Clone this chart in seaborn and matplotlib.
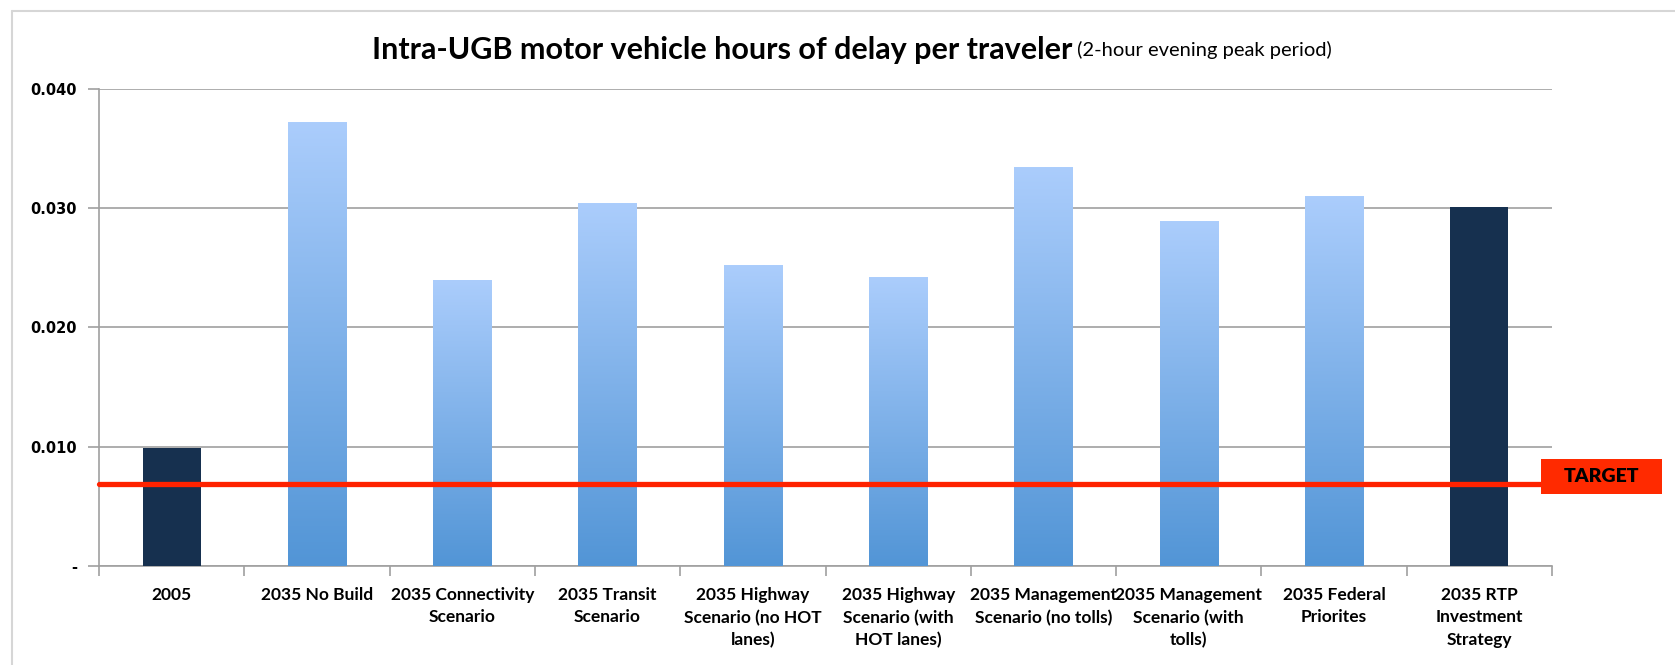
import matplotlib
matplotlib.use("Agg")
import matplotlib.pyplot as plt
import matplotlib.lines as mlines
import matplotlib.patches as mpatches
import numpy as np
import pandas as pd
import seaborn as sns

categories = [
    "2005",
    "2035 No Build",
    "2035 Connectivity\nScenario",
    "2035 Transit\nScenario",
    "2035 Highway\nScenario (no HOT\nlanes)",
    "2035 Highway\nScenario (with\nHOT lanes)",
    "2035 Management\nScenario (no tolls)",
    "2035 Management\nScenario (with\ntolls)",
    "2035 Federal\nPriorites",
    "2035 RTP\nInvestment\nStrategy",
]
values = [0.0099, 0.0372, 0.0240, 0.0304, 0.0252, 0.0242, 0.0334, 0.0289, 0.0310, 0.0301]
kinds = ["base", "scenario", "scenario", "scenario", "scenario", "scenario",
         "scenario", "scenario", "scenario", "base"]
target = 0.0069
yticks = [0.0, 0.010, 0.020, 0.030, 0.040]
ytick_labels = ["-", "0.010", "0.020", "0.030", "0.040"]
title_main = "Intra-UGB motor vehicle hours of delay per traveler"
title_sub = " (2-hour evening peak period)"
target_label = "TARGET"

sns.set_theme(style="white")
plt.rcParams['font.family'] = ['Lato', 'DejaVu Sans']
plt.rcParams['text.color'] = 'black'
plt.rcParams['xtick.color'] = 'black'
plt.rcParams['ytick.color'] = 'black'

df = pd.DataFrame({"category": categories, "value": values, "kind": kinds})

W, H = 1675, 665
fig = plt.figure(figsize=(W / 100, H / 100), dpi=100)
ax = fig.add_axes([99 / W, 1 - 566 / H, (1552 - 99) / W, (566 - 88.7) / H])

navy = "#16304f"
sns.barplot(data=df, x="category", y="value", hue="kind",
            palette={"base": navy, "scenario": "#5b9bd9"},
            width=0.40, legend=False, ax=ax, saturation=1, zorder=3)

ax.set_xlim(-0.5, len(categories) - 0.5)
ax.set_ylim(0, 0.040)

# gradient fill for scenario bars
top_c = np.array([171, 205, 252]) / 255
bot_c = np.array([82, 149, 214]) / 255
grad = np.linspace(0, 1, 256)[:, None]
img = top_c[None, None, :] * (1 - grad[..., None]) + bot_c[None, None, :] * grad[..., None]
for patch in ax.patches:
    fc = patch.get_facecolor()
    h = patch.get_height()
    if h <= 0:
        continue
    if not np.allclose(fc[:3], matplotlib.colors.to_rgb(navy), atol=0.02):
        x0 = patch.get_x()
        w = patch.get_width()
        im = ax.imshow(img, extent=[x0, x0 + w, 0, h], aspect="auto",
                       zorder=3.1, origin="upper")
        im.set_clip_path(patch)
        patch.set_facecolor("none")
    patch.set_edgecolor("none")

ax.set_xlim(-0.5, len(categories) - 0.5)
ax.set_ylim(0, 0.040)

# grid and spines
ax.set_yticks(yticks)
ax.set_yticklabels(ytick_labels)
ax.yaxis.grid(True, color="#a0a0a0", linewidth=1.2, zorder=0)
ax.set_axisbelow(True)
for s in ["top", "right"]:
    ax.spines[s].set_visible(False)
for s in ["left", "bottom"]:
    ax.spines[s].set_color("#a0a0a0")
    ax.spines[s].set_linewidth(1.2)

ax.tick_params(axis="y", which="major", direction="out", length=8, width=1.2,
               color="#a0a0a0", pad=8, left=True)
for lab in ax.get_yticklabels():
    lab.set_fontfamily("DejaVu Sans")
    lab.set_fontweight("bold")
    lab.set_fontsize(10.5)

ax.set_xticks(np.arange(-0.5, len(categories) + 0.5, 1.0), minor=True)
ax.tick_params(axis="x", which="minor", direction="out", length=7, width=1.2,
               color="#a0a0a0", bottom=True)
ax.tick_params(axis="x", which="major", length=0, pad=15)
ax.set_xticks(range(len(categories)))
ax.set_xticklabels(categories, fontsize=12.5, fontweight="bold",
                   linespacing=1.5, va="top")
ax.set_xlabel("")
ax.set_ylabel("")

# target line
ax.plot([0, 1.0], [target, target], transform=ax.get_yaxis_transform(),
        color="#ff2200", linewidth=3.8, zorder=4, clip_on=False)
box = mpatches.Rectangle((1541 / W, 1 - 494 / H), 121 / W, 35 / H,
                         transform=fig.transFigure, facecolor="#ff2a00",
                         edgecolor="none", zorder=5)
fig.add_artist(box)
fig.text(1601 / W, 1 - 477 / H, target_label, ha="center", va="center",
         fontsize=14, fontweight="heavy", color="black", zorder=6)

# title: bold main part + regular subtitle
fig.canvas.draw()
t1 = fig.text(0.5, 1 - 50 / H, title_main, ha="left", va="center",
              fontsize=22, fontweight="bold", color="black")
t2 = fig.text(0.5, 1 - 50 / H, title_sub, ha="left", va="center", fontsize=14.5,
              color="black")
r = fig.canvas.get_renderer()
w1 = t1.get_window_extent(r).width
w2 = t2.get_window_extent(r).width
total = w1 + w2
cx = 852
start = cx - total / 2
t1.set_x(start / W)
t2.set_x((start + w1) / W)

# frame lines
fig.add_artist(mlines.Line2D([12 / W, 12 / W], [0, 1 - 11 / H], color="#d6d6d6",
                             linewidth=1.5, transform=fig.transFigure))
fig.add_artist(mlines.Line2D([12 / W, 1], [1 - 11 / H, 1 - 11 / H], color="#d6d6d6",
                             linewidth=1.5, transform=fig.transFigure))

fig.savefig("out.png", dpi=100)
